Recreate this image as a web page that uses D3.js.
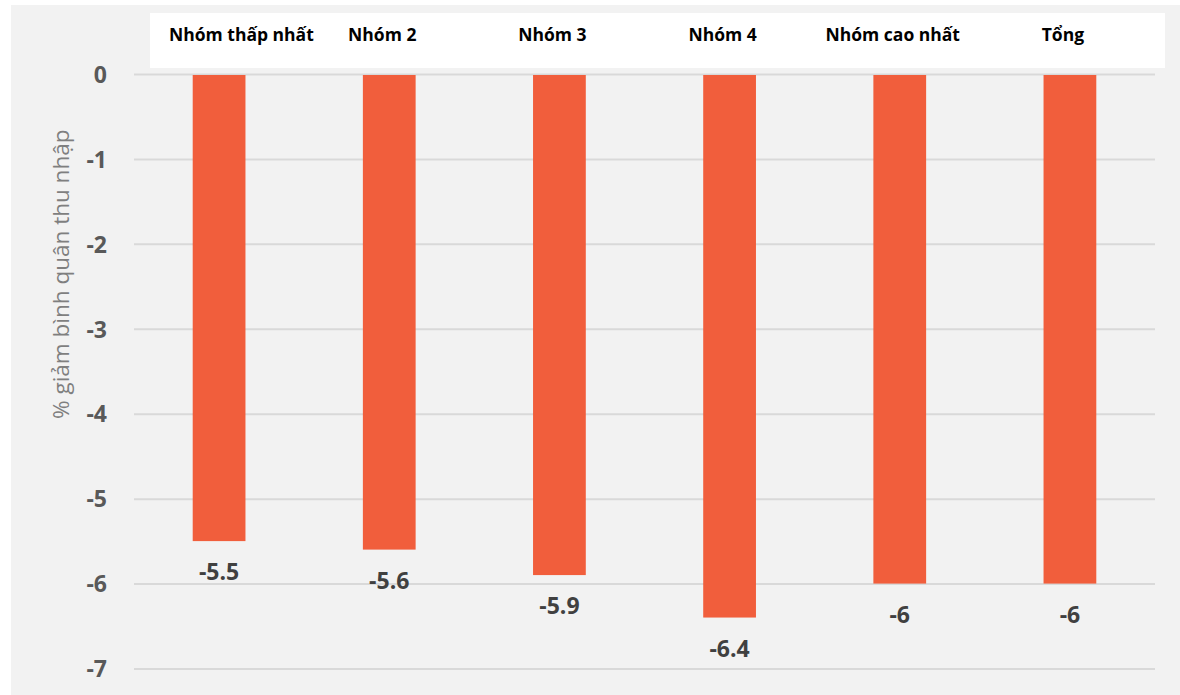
<!DOCTYPE html>
<html>
<head>
<meta charset="utf-8">
<script src="https://cdn.jsdelivr.net/npm/d3@7"></script>
<style>
  html, body { margin: 0; padding: 0; background: #ffffff; }
  svg { display: block; }
</style>
</head>
<body>
<svg id="chart" width="1180" height="695"></svg>
<script>
// Income decline by quintile group (%)
const groups = ["Nhóm thấp nhất", "Nhóm 2", "Nhóm 3", "Nhóm 4", "Nhóm cao nhất", "Tổng"];
const values = [-5.5, -5.6, -5.9, -6.4, -6, -6];
const yTicks = [0, -1, -2, -3, -4, -5, -6, -7];
const yTitle = "% giảm bình quân thu nhập";

const W = 1180, H = 695;
const margin = { top: 74, right: 25, bottom: 26, left: 134 };
const svg = d3.select("#chart");
const font = "'Open Sans', 'Noto Sans', sans-serif";
const num = d => String(d); // plain hyphen-minus, as in the source table

// panel background
svg.append("rect")
  .attr("x", 11).attr("y", 5)
  .attr("width", W - 11).attr("height", H - 5)
  .attr("fill", "#f2f2f2");

const x = d3.scaleBand()
  .domain(groups)
  .range([margin.left, W - margin.right])
  .paddingInner(0.69)
  .paddingOuter(0.345);

const y = d3.scaleLinear()
  .domain([0, -7])
  .range([margin.top, H - margin.bottom - 0.5]);

// horizontal gridlines + tick labels via axis
const yAxis = d3.axisLeft(y)
  .tickValues(yTicks)
  .tickSize(-(W - margin.right - margin.left))
  .tickPadding(27)
  .tickFormat(num);

const gy = svg.append("g")
  .attr("transform", `translate(${margin.left},0)`)
  .call(yAxis);
gy.select(".domain").remove();
gy.selectAll(".tick line")
  .attr("stroke", "#d9d9d9")
  .attr("stroke-width", 2);
gy.selectAll(".tick text")
  .attr("fill", "#595959")
  .style("font-family", font)
  .style("font-weight", "bold")
  .style("font-size", "23px")
  .attr("dy", "0.36em");

// bars
svg.append("g").selectAll("rect")
  .data(values)
  .join("rect")
  .attr("x", (d, i) => x(groups[i]))
  .attr("y", y(0) + 1)
  .attr("width", x.bandwidth())
  .attr("height", d => y(d) - y(0) - 1)
  .attr("fill", "#f15e3c");

// value labels under each bar
svg.append("g").selectAll("text")
  .data(values)
  .join("text")
  .attr("x", (d, i) => x(groups[i]) + x.bandwidth() / 2)
  .attr("y", d => y(d) + 39)
  .attr("text-anchor", "middle")
  .attr("fill", "#404040")
  .style("font-family", font)
  .style("font-weight", "bold")
  .style("font-size", "23px")
  .text(num);

// header strip with group names
const box = { x0: 150, x1: 1165, y0: 13, y1: 68 };
svg.append("rect")
  .attr("x", box.x0).attr("y", box.y0)
  .attr("width", box.x1 - box.x0).attr("height", box.y1 - box.y0)
  .attr("fill", "#ffffff");

const head = svg.append("g").selectAll("text")
  .data(groups)
  .join("text")
  .attr("y", 41)
  .attr("text-anchor", "middle")
  .attr("fill", "#000000")
  .style("font-family", font)
  .style("font-weight", "bold")
  .style("font-size", "17.5px")
  .text(d => d);

// keep each name inside the strip with some inner padding
head.each(function (d) {
  const w = this.getComputedTextLength();
  let cx = x(d) + x.bandwidth() / 2 - 7;
  cx = Math.max(cx, box.x0 + 19 + w / 2);
  d3.select(this).attr("x", cx);
});

// y-axis title
svg.append("text")
  .attr("transform", `translate(69,${(y(0) + y(-7)) / 2 - 97}) rotate(-90)`)
  .attr("text-anchor", "middle")
  .attr("fill", "#7f7f7f")
  .style("font-family", font)
  .style("font-size", "22.5px")
  .text(yTitle);
</script>
</body>
</html>
